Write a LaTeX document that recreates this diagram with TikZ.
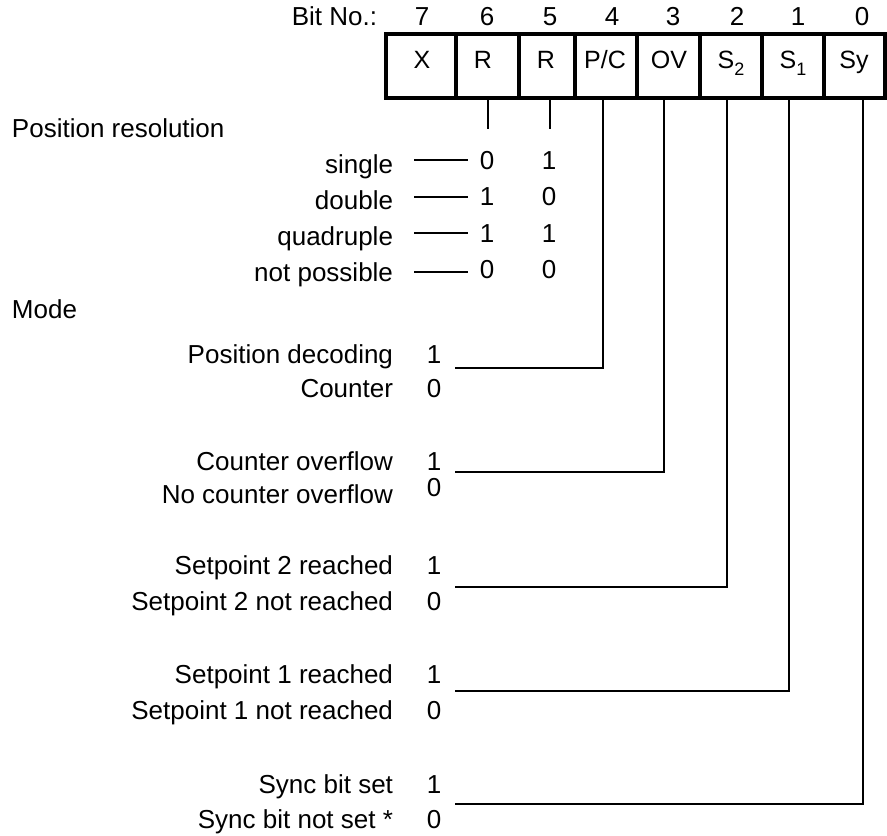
\documentclass[tikz,border=0pt]{standalone}
\usepackage{fontspec}
\setmainfont{Liberation Sans}
\newcommand{\subdig}[1]{\raisebox{-7pt}{\fontsize{18}{18}\selectfont #1}}
\begin{document}
\begin{tikzpicture}[x=1pt,y=-1pt,
  every node/.style={inner sep=0pt, outer sep=0pt, font=\fontsize{26}{30}\selectfont},
  lbl/.style={anchor=base east},
  dig/.style={anchor=base},
  boxlbl/.style={anchor=base, font=\fontsize{25}{28}\selectfont},
  thinline/.style={line width=1.4pt, line cap=rect},
  thickline/.style={line width=3.6pt}]
\useasboundingbox (0,0) rectangle (887,836);

% header
\node[lbl] (bitno) at (377,25) {Bit No.:};
\node[dig] (n7) at (422,25) {7};
\node[dig] (n6) at (487,25) {6};
\node[dig] (n5) at (550,25) {5};
\node[dig] (n4) at (612,25) {4};
\node[dig] (n3) at (673,25) {3};
\node[dig] (n2) at (737,25) {2};
\node[dig] (n1) at (798,25) {1};
\node[dig] (n0) at (862,25) {0};

% register
\draw[thickline] (386,34) rectangle (885,98);
\foreach \x in {456,519,575,637,700,762,824} \draw[thickline] (\x,34) -- (\x,98);
\node[boxlbl] (bX) at (422,68) {X};
\node[boxlbl] (bR6) at (483,68) {R};
\node[boxlbl] (bR5) at (546,68) {R};
\node[boxlbl] (bPC) at (605,68) {P/C};
\node[boxlbl] (bOV) at (669,68) {OV};
\node[boxlbl] (bS2) at (731,68) {S\subdig{2}};
\node[boxlbl] (bS1) at (793,68) {S\subdig{1}};
\node[boxlbl] (bSy) at (854,68) {Sy};

% tap points
\coordinate (tR6) at (488,98);
\coordinate (tR5) at (550,98);
\coordinate (tPC) at (603,98);
\coordinate (tOV) at (664,98);
\coordinate (tS2) at (727,98);
\coordinate (tS1) at (789,98);
\coordinate (tSy) at (863,98);
\coordinate (eR6) at (488,128);
\coordinate (eR5) at (550,128);

\draw[thinline] (tR6) -- (eR6);
\draw[thinline] (tR5) -- (eR5);

% position resolution
\node[anchor=base west] (posres) at (12,137) {Position resolution};
\node[lbl] (single) at (393,173) {single};
\node[lbl] (double) at (393,209) {double};
\node[lbl] (quad) at (393,245) {quadruple};
\node[lbl] (notp) at (393,281) {not possible};
\foreach \y/\n in {160/a,197/b,233/c,272/d}{
  \coordinate (ls\n) at (414,\y);
  \coordinate (le\n) at (468,\y);
  \draw[thinline, line cap=butt] (ls\n) -- (le\n);
}
\node[dig] (ra6) at (487,169) {0};
\node[dig] (ra5) at (549,169) {1};
\node[dig] (rb6) at (487,205) {1};
\node[dig] (rb5) at (549,205) {0};
\node[dig] (rc6) at (487,242) {1};
\node[dig] (rc5) at (549,242) {1};
\node[dig] (rd6) at (487,278) {0};
\node[dig] (rd5) at (549,278) {0};

% mode
\node[anchor=base west] (mode) at (12,318) {Mode};

\node[lbl] (pd) at (393,363) {Position decoding};
\node[lbl] (ct) at (393,397) {Counter};
\node[dig] (pd1) at (434,363) {1};
\node[dig] (ct0) at (434,397) {0};

\node[lbl] (co) at (393,470) {Counter overflow};
\node[lbl] (nco) at (393,503) {No counter overflow};
\node[dig] (co1) at (434,470) {1};
\node[dig] (nco0) at (434,496) {0};

\node[lbl] (s2r) at (393,574) {Setpoint 2 reached};
\node[lbl] (s2n) at (393,610) {Setpoint 2 not reached};
\node[dig] (s2r1) at (434,574) {1};
\node[dig] (s2n0) at (434,610) {0};

\node[lbl] (s1r) at (393,683) {Setpoint 1 reached};
\node[lbl] (s1n) at (393,719) {Setpoint 1 not reached};
\node[dig] (s1r1) at (434,683) {1};
\node[dig] (s1n0) at (434,719) {0};

\node[lbl] (sys) at (393,793) {Sync bit set};
\node[lbl] (syn) at (393,828) {Sync bit not set *};
\node[dig] (sys1) at (434,793) {1};
\node[dig] (syn0) at (434,828) {0};

% connectors
\coordinate (cPC) at (456,368);
\coordinate (cOV) at (456,472);
\coordinate (cS2) at (456,587);
\coordinate (cS1) at (456,691);
\coordinate (cSy) at (456,804);
\draw[thinline, line join=miter] (tPC) |- (cPC);
\draw[thinline, line join=miter] (tOV) |- (cOV);
\draw[thinline, line join=miter] (tS2) |- (cS2);
\draw[thinline, line join=miter] (tS1) |- (cS1);
\draw[thinline, line join=miter] (tSy) |- (cSy);
\end{tikzpicture}
\end{document}
